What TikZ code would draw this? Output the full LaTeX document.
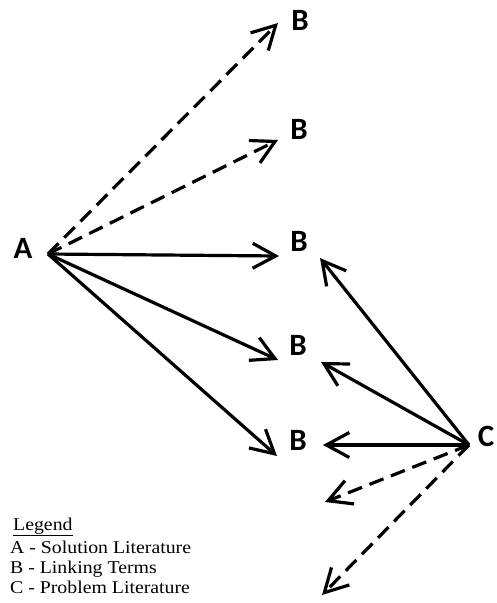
\documentclass[tikz,border=0pt]{standalone}
\usepackage{fontspec}
\setmainfont{Liberation Serif}
\newfontfamily\labelfont{Carlito}
\newfontfamily\legendfont[FakeStretch=1.1]{Liberation Serif}
\usetikzlibrary{arrows.meta}
\begin{document}
\begin{tikzpicture}[x=1pt,y=-1pt,
  term/.style={font=\labelfont\bfseries\fontsize{31}{34}\selectfont, inner sep=0pt},
  link/.style={line width=3.2pt, -{Straight Barb[length=23pt,width=25pt,line width=3.2pt]}},
  weak/.style={link, dash pattern=on 15pt off 8pt},
  legendtext/.style={font=\legendfont\fontsize{18}{20}\selectfont, anchor=base west, inner sep=0pt}]
\useasboundingbox (0,0) rectangle (497,603);

% concept labels
\node[term] (A) at (23,248) {A};
\node[term] (C) at (486,436) {C};
\node[term] (B1) at (300,20) {B};
\node[term] (B2) at (299,129) {B};
\node[term] (B3) at (299,241) {B};
\node[term] (B4) at (298,345) {B};
\node[term] (B5) at (298,440) {B};

% fan origins and arrow ends
\coordinate (a0) at (48,254);
\coordinate (c0) at (469,445);
\coordinate (b1) at (278,23);
\coordinate (b2) at (278,140);
\coordinate (b3) at (279,256);
\coordinate (b4) at (278,360);
\coordinate (b5) at (277,456);
\coordinate (b3c) at (320,258);
\coordinate (b4c) at (321,362);
\coordinate (b5c) at (323,445);
\coordinate (u1) at (325,502);
\coordinate (u2) at (322,595);

% from the solution literature
\draw[weak] (a0) -- (b1);
\draw[weak] (a0) -- (b2);
\draw[link] (a0) -- (b3);
\draw[link] (a0) -- (b4);
\draw[link] (a0) -- (b5);

% from the problem literature
\draw[link] (c0) -- (b3c);
\draw[link] (c0) -- (b4c);
\draw[link] (c0) -- (b5c);
\draw[weak] (c0) -- (u1);
\draw[weak] (c0) -- (u2);

% legend
\node[legendtext] (lg) at (13,530) {\underline{Legend}};
\node[legendtext] (la) at (10,553) {A - Solution Literature};
\node[legendtext] (lb) at (10,573) {B - Linking Terms};
\node[legendtext] (lc) at (10,593) {C - Problem Literature};
\end{tikzpicture}
\end{document}
